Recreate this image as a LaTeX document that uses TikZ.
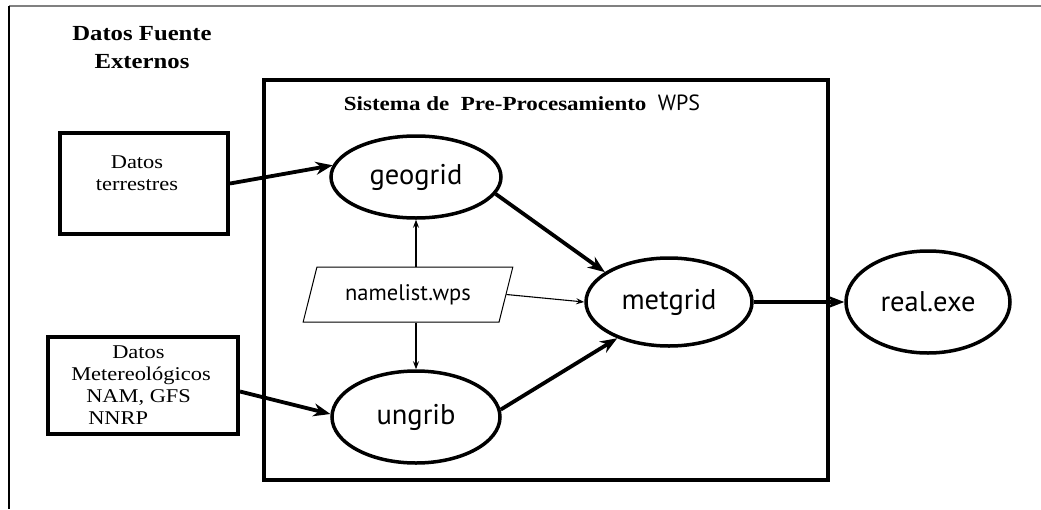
\documentclass[tikz,border=0pt]{standalone}
\usepackage{fontspec}
\setmainfont{Liberation Serif}
\newfontfamily\wideserif[FakeStretch=1.15]{Liberation Serif}
\newfontfamily\lblsans{PT Sans}
\usetikzlibrary{shapes.geometric,arrows.meta}
\begin{document}
\begin{tikzpicture}[x=1pt,y=-1pt,
  box/.style={draw,line width=4pt,inner sep=0pt},
  proc/.style={draw,ellipse,line width=3.5pt,inner sep=0pt,font=\lblsans\fontsize{28.5}{30}\selectfont},
  boxtext/.style={font=\wideserif\fontsize{19.5}{22}\selectfont,align=center,inner sep=0pt},
  heavy/.style={line width=3.8pt,-{Stealth[length=17pt,width=13pt]}},
  light/.style={line width=1.1pt,-{Stealth[length=8pt,width=6pt]}},
]
\useasboundingbox (0,0) rectangle (1041,509);
% outer frame fragments
\draw[gray,line width=2pt] (9,6) -- (1041,6);
\draw[black,line width=2pt] (9,6) -- (9,509);

% header
\node[font=\wideserif\bfseries\fontsize{21.5}{28}\selectfont,align=center,inner sep=0pt] (hdr) at (142,48) {Datos Fuente\\Externos};

% WPS system box
\node[box,minimum width=564,minimum height=400] (wps) at (546,280) {};
\node[font=\wideserif\bfseries\fontsize{20}{22}\selectfont,inner sep=0pt] (title) at (522,103)
  {Sistema de\ \ Pre-Procesamiento\ \ {\lblsans\mdseries\fontsize{22}{22}\selectfont WPS}};

% input boxes
\node[box,minimum width=168,minimum height=101] (terr) at (144,183.5) {};
\node[boxtext] (terrtxt) at ([xshift=-7pt,yshift=10pt]terr.center) {Datos\\terrestres};

\node[box,minimum width=190,minimum height=97] (met) at (143,385.5) {};
\node[boxtext,align=left] (mettxt) at ([xshift=-2pt]met.center)
  {\hspace*{41pt}Datos\\Metereológicos\\\hspace*{15pt}NAM, GFS\\\hspace*{17pt}NNRP};

% processes
\node[proc,minimum width=170,minimum height=82] (geo) at (416,177) {geogrid};
\node[proc,minimum width=168,minimum height=92] (ung) at (416,417) {ungrib};
\node[proc,minimum width=166,minimum height=88] (mg) at (669,302) {metgrid};
\node[proc,minimum width=164,minimum height=102] (re) at (928,302) {real.exe};

\node[draw,trapezium,trapezium left angle=65,trapezium right angle=115,trapezium stretches=true,
  minimum width=210,minimum height=55,inner sep=0pt,line width=1pt,
  font=\lblsans\fontsize{22.5}{24}\selectfont] (nl) at (408,294.5) {namelist.wps};

% connectors
\draw[heavy] (terr.east) -- (geo.172);
\draw[heavy] ([yshift=-6pt]met.east) -- (ung.178);
\draw[heavy] (geo.-12) -- (mg.155);
\draw[heavy] (ung.5) -- (mg.215);
\draw[heavy,line width=4.5pt] (mg.east) -- (re.west);
\draw[light] (geo.south |- nl.north) -- (geo.south);
\draw[light] (ung.north |- nl.south) -- (ung.north);
\draw[light] (nl.east) -- (mg.west);
\end{tikzpicture}
\end{document}
